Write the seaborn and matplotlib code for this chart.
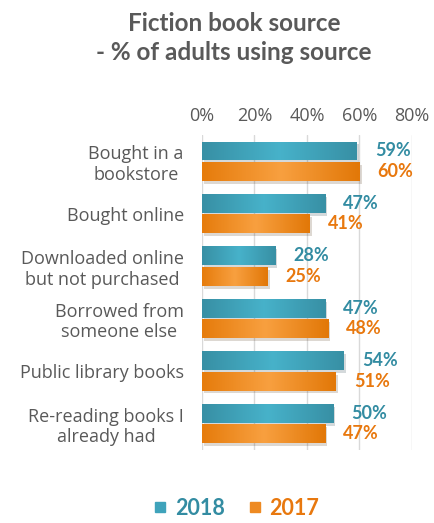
import numpy as np
import pandas as pd
import seaborn as sns
import matplotlib.pyplot as plt
import matplotlib.patheffects as pe
from matplotlib.colors import LinearSegmentedColormap
from matplotlib.lines import Line2D

# chart data
categories = ["Bought in a\nbookstore", "Bought online", "Downloaded online\nbut not purchased",
              "Borrowed from\nsomeone else", "Public library books", "Re-reading books I\nalready had"]
years = ["2018", "2017"]
vals_2018 = [59, 47, 28, 47, 54, 50]
vals_2017 = [60, 41, 25, 48, 51, 47]
ticks = [0, 20, 40, 60, 80]

teal = "#3fa3bb"
orange = "#ee8a22"
teal_txt = "#338ca2"
orange_txt = "#e8780e"
# bar gradients: darker at the ends, lighter in the middle
grad_maps = [LinearSegmentedColormap.from_list("t", ["#3890a5", "#47b2ca", "#3890a5"]),
             LinearSegmentedColormap.from_list("o", ["#e67c0c", "#f8a040", "#e27808"])]

df = pd.DataFrame({
    "source": categories * 2,
    "year": ["2018"] * len(categories) + ["2017"] * len(categories),
    "pct": vals_2018 + vals_2017,
})

sns.set_style("white")
plt.rcParams['font.family'] = ['Lato', 'DejaVu Sans']

fig = plt.figure(figsize=(4.35, 5.23), dpi=100)
ax = fig.add_axes([0.464, 0.14, 0.483, 0.602])

sns.barplot(data=df, y="source", x="pct", hue="year", order=categories, hue_order=years,
            palette=[teal, orange], saturation=1, width=0.78, gap=0.08, orient="h", ax=ax,
            legend=False, edgecolor="none")

ax.set_xlim(0, 80)
ax.set_ylim(len(categories) - 0.5, -0.5)
ax.set_xticks(ticks)
ax.set_xticklabels([f"{t}%" for t in ticks], fontsize=13, color="#595959", family="Open Sans")
ax.xaxis.tick_top()
ax.tick_params(axis="x", length=0, pad=7)
ax.tick_params(axis="y", length=0, pad=13)
for lab in ax.get_yticklabels():
    lab.set_family("Open Sans")
    lab.set_fontsize(13)
    lab.set_color("#595959")
    lab.set_multialignment("center")
ax.grid(axis="x", color="#d9d9d9", linewidth=1)
ax.set_axisbelow(True)
for s in ax.spines.values():
    s.set_visible(False)
ax.set_xlabel("")
ax.set_ylabel("")

grad = np.array([np.linspace(0, 1, 64)])
for cont, col, cm in zip(ax.containers, [teal_txt, orange_txt], grad_maps):
    for p in cont.patches:
        p.set_path_effects([pe.SimplePatchShadow(offset=(1.5, -2), alpha=0.18), pe.Normal()])
        x0, y0 = p.get_x(), p.get_y()
        im = ax.imshow(grad, cmap=cm, aspect="auto", extent=(x0, x0 + p.get_width(), y0 + p.get_height(), y0),
                       zorder=p.get_zorder() + 0.1, interpolation="bicubic")
        im.set_clip_path(p)
    ax.bar_label(cont, labels=[f"{v:.0f}%" for v in cont.datavalues], padding=13,
                 fontsize=13, fontweight="bold", color=col)
ax.set_xlim(0, 80)
ax.set_ylim(len(categories) - 0.5, -0.5)
ax.set_aspect("auto")

fig.text(0.538, 0.955, "Fiction book source", ha="center", va="center", fontsize=17.5,
         fontweight="bold", color="#595959")
fig.text(0.538, 0.900, "- % of adults using source", ha="center", va="center", fontsize=17.5,
         fontweight="bold", color="#595959")

handles = [Line2D([], [], marker="s", linestyle="none", markersize=7, color=c) for c in [teal, orange]]
leg = fig.legend(handles, years, loc="center", bbox_to_anchor=(0.543, 0.028), ncol=2, frameon=False,
                 handlelength=0.7, handletextpad=0.35, columnspacing=1.0,
                 prop={"size": 15.5, "weight": "bold"})
for t, c in zip(leg.get_texts(), [teal_txt, orange_txt]):
    t.set_color(c)

plt.savefig("out.png", dpi=100)
plt.close()
